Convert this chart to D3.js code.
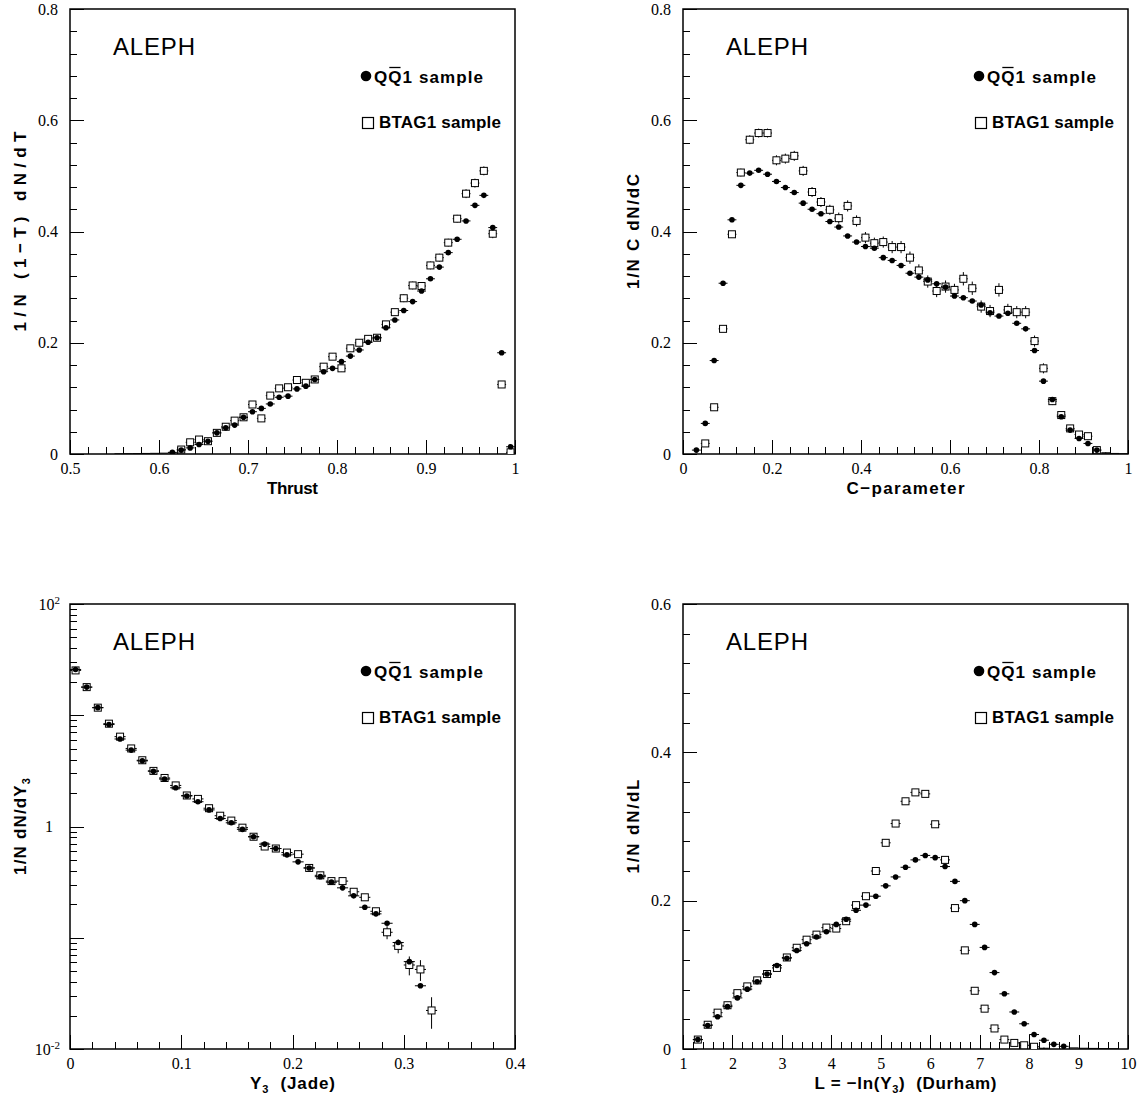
<!DOCTYPE html>
<html>
<head>
<meta charset="utf-8">
<script src="https://cdn.jsdelivr.net/npm/d3@7"></script>
<style>
  body { margin: 0; background: #fff; }
  svg text { fill: #000; }
  .tick line { stroke: #000; stroke-width: 1; shape-rendering: crispEdges; }
  .ttl { font-family: "Liberation Sans", Arial, sans-serif; font-weight: bold; font-size: 17px; }
  .exp { font-family: "Liberation Sans", Arial, sans-serif; font-size: 24px; }
</style>
</head>
<body>
<svg id="chart" width="1140" height="1105"></svg>
<script>
// ---- Thrust ----
const thrustBins = [0.555, 0.565, 0.575, 0.585, 0.595, 0.605, 0.615, 0.625, 0.635, 0.645, 0.655, 0.665, 0.675, 0.685, 0.695,
  0.705, 0.715, 0.725, 0.735, 0.745, 0.755, 0.765, 0.775, 0.785, 0.795, 0.805, 0.815, 0.825, 0.835, 0.845, 0.855,
  0.865, 0.875, 0.885, 0.895, 0.905, 0.915, 0.925, 0.935, 0.945, 0.955, 0.965, 0.975, 0.985, 0.995];
const thrustQQ1 = [0.0003, 0.0005, 0.0007, 0.001, 0.0012, 0.0015, 0.003, 0.007, 0.011, 0.017, 0.023, 0.038, 0.047, 0.052, 0.066,
  0.076, 0.082, 0.090, 0.102, 0.104, 0.117, 0.122, 0.134, 0.148, 0.154, 0.166, 0.176, 0.187, 0.201, 0.209, 0.227,
  0.241, 0.258, 0.274, 0.293, 0.315, 0.336, 0.362, 0.386, 0.419, 0.447, 0.465, 0.407, 0.182, 0.013];
const thrustBTAG = [null, null, null, null, null, null, 0.002, 0.008, 0.021, 0.026, 0.023, 0.038, 0.049, 0.060, 0.066,
  0.089, 0.064, 0.105, 0.118, 0.120, 0.133, 0.128, 0.134, 0.157, 0.175, 0.154, 0.190, 0.200, 0.207, 0.209, 0.233,
  0.255, 0.280, 0.303, 0.302, 0.339, 0.353, 0.380, 0.423, 0.468, 0.487, 0.509, 0.396, 0.125, 0.003];
const thrustBTAGErr = [null, null, null, null, null, null, 0.002, 0.003, 0.003, 0.003, 0.003, 0.004, 0.004, 0.004, 0.004,
  0.005, 0.005, 0.005, 0.005, 0.005, 0.005, 0.005, 0.005, 0.006, 0.006, 0.006, 0.006, 0.006, 0.006, 0.006, 0.006,
  0.006, 0.007, 0.007, 0.007, 0.007, 0.007, 0.007, 0.007, 0.008, 0.008, 0.008, 0.008, 0.005, 0.002];

// ---- C-parameter ----
const cBins = [0.03, 0.05, 0.07, 0.09, 0.11, 0.13, 0.15, 0.17, 0.19, 0.21, 0.23, 0.25, 0.27, 0.29, 0.31, 0.33, 0.35,
  0.37, 0.39, 0.41, 0.43, 0.45, 0.47, 0.49, 0.51, 0.53, 0.55, 0.57, 0.59, 0.61, 0.63, 0.65, 0.67, 0.69, 0.71, 0.73,
  0.75, 0.77, 0.79, 0.81, 0.83, 0.85, 0.87, 0.89, 0.91, 0.93, 0.95, 0.97, 0.99];
const cQQ1 = [0.007, 0.055, 0.168, 0.307, 0.421, 0.483, 0.505, 0.510, 0.503, 0.490,
  0.479, 0.470, 0.451, 0.440, 0.432, 0.418, 0.408, 0.392, 0.381, 0.373,
  0.370, 0.353, 0.348, 0.339, 0.325, 0.318, 0.313, 0.306, 0.300, 0.284,
  0.281, 0.275, 0.268, 0.254, 0.248, 0.253, 0.235, 0.225, 0.186, 0.131,
  0.098, 0.067, 0.043, 0.028, 0.019, 0.007, 0.0015, 0.001, 0.0005];
const cBTAG = [null, 0.019, 0.084, 0.225, 0.395, 0.506, 0.565, 0.577, 0.577, 0.528,
  0.531, 0.536, 0.509, 0.471, 0.453, 0.439, 0.424, 0.446, 0.419, 0.389,
  0.379, 0.381, 0.372, 0.372, 0.353, 0.330, 0.310, 0.293, 0.301, 0.295,
  0.315, 0.298, 0.265, 0.257, 0.295, 0.259, 0.255, 0.255, 0.203, 0.154,
  0.095, 0.070, 0.046, 0.035, 0.032, 0.007, 0.002, null, null];
const cBTAGErr = [null, 0.003, 0.004, 0.005, 0.006, 0.007, 0.008, 0.008, 0.008, 0.009,
  0.009, 0.009, 0.009, 0.009, 0.009, 0.009, 0.010, 0.010, 0.010, 0.010,
  0.010, 0.010, 0.011, 0.011, 0.011, 0.011, 0.011, 0.011, 0.011, 0.011,
  0.012, 0.012, 0.011, 0.011, 0.012, 0.011, 0.011, 0.011, 0.010, 0.009,
  0.007, 0.006, 0.005, 0.004, 0.004, 0.002, 0.001, null, null];

// ---- Y3 (Jade) ----
const y3Bins = [0.005, 0.015, 0.025, 0.035, 0.045, 0.055, 0.065, 0.075, 0.085, 0.095, 0.105, 0.115, 0.125, 0.135,
  0.145, 0.155, 0.165, 0.175, 0.185, 0.195, 0.205, 0.215, 0.225, 0.235, 0.245, 0.255, 0.265, 0.275, 0.285, 0.295,
  0.305, 0.315, 0.325];
const y3QQ1 = [25.8, 17.9, 11.7, 8.25, 6.12, 4.86, 3.89, 3.14, 2.67, 2.23,
  1.88, 1.67, 1.41, 1.18, 1.08, 0.943, 0.809, 0.695, 0.634, 0.556,
  0.481, 0.424, 0.354, 0.316, 0.281, 0.238, 0.188, 0.164, 0.135, 0.0906,
  0.061, 0.037, null];
const y3BTAG = [25.3, 17.9, 11.7, 8.4, 6.42, 5.03, 3.94, 3.16, 2.73, 2.34,
  1.90, 1.77, 1.46, 1.25, 1.13, 0.976, 0.809, 0.661, 0.634, 0.583,
  0.564, 0.424, 0.364, 0.323, 0.323, 0.259, 0.231, 0.173, 0.112, 0.0845,
  0.0569, 0.0519, 0.0222];
const y3BTAGErr = [0.5, 0.35, 0.22, 0.15, 0.12, 0.09, 0.07, 0.06, 0.05, 0.045,
  0.04, 0.035, 0.03, 0.028, 0.026, 0.024, 0.021, 0.018, 0.017, 0.016,
  0.016, 0.013, 0.012, 0.011, 0.011, 0.010, 0.009, 0.008, 0.015, 0.012,
  0.011, 0.011, 0.007];

// ---- L = -ln(Y3) (Durham) ----
const lBins = [1.3, 1.5, 1.7, 1.9, 2.1, 2.3, 2.5, 2.7, 2.9, 3.1, 3.3, 3.5, 3.7, 3.9, 4.1, 4.3, 4.5, 4.7, 4.9, 5.1,
  5.3, 5.5, 5.7, 5.9, 6.1, 6.3, 6.5, 6.7, 6.9, 7.1, 7.3, 7.5, 7.7, 7.9, 8.1, 8.3, 8.5, 8.7, 8.9, 9.1, 9.3, 9.5, 9.7];
const lQQ1 = [0.0127, 0.0317, 0.0435, 0.0571, 0.0689, 0.0807, 0.0907, 0.1011, 0.1125, 0.1224,
  0.1329, 0.142, 0.151, 0.158, 0.168, 0.175, 0.187, 0.194, 0.206, 0.220,
  0.232, 0.245, 0.255, 0.261, 0.258, 0.246, 0.226, 0.200, 0.168, 0.137,
  0.103, 0.0744, 0.0499, 0.034, 0.0195, 0.0118, 0.0063, 0.0036, 0.0015, 0.001,
  0.0008, 0.0005, 0.0003];
const lBTAG = [0.0127, 0.0327, 0.049, 0.059, 0.0753, 0.0844, 0.0925, 0.1011, 0.1093, 0.1234,
  0.1365, 0.1474, 0.1542, 0.1637, 0.1624, 0.1723, 0.194, 0.206, 0.240, 0.278,
  0.304, 0.334, 0.346, 0.344, 0.303, 0.255, 0.190, 0.133, 0.0785, 0.0544,
  0.0277, 0.0127, 0.0082, 0.005, 0.003, 0.001, null, null, null, null,
  null, null, null];
const lBTAGErr = [0.001, 0.002, 0.002, 0.002, 0.002, 0.002, 0.002, 0.002, 0.002, 0.002,
  0.002, 0.002, 0.002, 0.002, 0.002, 0.002, 0.003, 0.003, 0.003, 0.004,
  0.004, 0.004, 0.004, 0.004, 0.004, 0.003, 0.003, 0.003, 0.002, 0.002,
  0.002, 0.001, 0.001, 0.001, 0.001, 0.001, null, null, null, null,
  null, null, null];

const legendLabels = ["QQ1 sample", "BTAG1 sample"];
const W = 445, H = 445;
const svg = d3.select("#chart");
const serif = '"Liberation Serif", "Times New Roman", Times, serif';
const NB = "\u00a0";

// panel layout and axis settings
const panels = [
  { left: 70, top: 9, xDomain: [0.5, 1], yDomain: [0, 0.8], xStep: 0.1, xMinor: 0.02, yStep: 0.2, yMinor: 0.04,
    bins: thrustBins, qq: thrustQQ1, bt: thrustBTAG, btErr: thrustBTAGErr, half: 0.005,
    xTitle: [["Thrust"]], xLen: 51, yTitle: [["1/N (1\u2212T) dN/dT"]], yLen: 200 },
  { left: 683, top: 9, xDomain: [0, 1], yDomain: [0, 0.8], xStep: 0.2, xMinor: 0.04, yStep: 0.2, yMinor: 0.04,
    bins: cBins, qq: cQQ1, bt: cBTAG, btErr: cBTAGErr, half: 0.01,
    xTitle: [["C\u2212parameter"]], xLen: 118, yTitle: [["1/N C dN/dC"]], yLen: 115 },
  { left: 70, top: 604, xDomain: [0, 0.4], yDomain: [0.01, 100], log: true, xStep: 0.1, xMinor: 0.02,
    bins: y3Bins, qq: y3QQ1, bt: y3BTAG, btErr: y3BTAGErr, half: 0.005,
    xTitle: [["Y"], ["3", "sub"], [NB + NB + "(Jade)"]], xLen: 85, yTitle: [["1/N dN/dY"], ["3", "sub"]], yLen: 97 },
  { left: 683, top: 604, xDomain: [1, 10], yDomain: [0, 0.6], xStep: 1, xMinor: 0.2, yStep: 0.2, yMinor: 0.04,
    bins: lBins, qq: lQQ1, bt: lBTAG, btErr: lBTAGErr, half: 0.1,
    xTitle: [["L = \u2212ln(Y"], ["3", "sub"], [")" + NB + NB + "(Durham)"]], xLen: 182, yTitle: [["1/N dN/dL"]], yLen: 94 }
];

function richText(t, segs) {
  let shift = 0;
  segs.forEach(s => {
    const ts = t.append("tspan").text(s[0]);
    if (s[1] === "sub") { ts.attr("font-size", 11).attr("dy", 4); shift = 4; }
    else if (shift) { ts.attr("dy", -shift); shift = 0; }
  });
}

function stepValues(d0, d1, step) {
  const n = Math.round((d1 - d0) / step);
  return d3.range(n + 1).map(i => +(d0 + i * step).toFixed(6));
}

function styleAxis(a) {
  a.select(".domain").remove();
  a.attr("font-family", serif).attr("font-size", 16);
  a.selectAll(".tick text").style("font-family", serif).style("font-size", "16px").attr("fill", "#000");
}

function drawPanel(p) {
  const g = svg.append("g").attr("transform", `translate(${p.left},${p.top})`);
  const x = d3.scaleLinear().domain(p.xDomain).range([0, W]);
  const y = p.log ? d3.scaleLog().domain(p.yDomain).range([H, 0])
                  : d3.scaleLinear().domain(p.yDomain).range([H, 0]);

  // x ticks (inside)
  g.append("g").attr("transform", `translate(0,${H})`)
    .call(d3.axisBottom(x).tickValues(stepValues(p.xDomain[0], p.xDomain[1], p.xMinor)).tickSize(-7))
    .call(a => { a.select(".domain").remove(); a.selectAll("text").remove(); });
  g.append("g").attr("transform", `translate(0,${H})`)
    .call(d3.axisBottom(x).tickValues(stepValues(p.xDomain[0], p.xDomain[1], p.xStep)).tickSize(-14).tickPadding(9).tickFormat(d3.format("~g")))
    .call(styleAxis);

  // y ticks
  if (p.log) {
    const minors = [];
    [0.01, 0.1, 1, 10].forEach(dec => { for (let k = 2; k <= 9; k++) minors.push(dec * k); });
    g.append("g").call(d3.axisLeft(y).tickValues(minors).tickSize(-7))
      .call(a => { a.select(".domain").remove(); a.selectAll("text").remove(); });
    const yAx = g.append("g").call(d3.axisLeft(y).tickValues([0.01, 0.1, 1, 10, 100]).tickSize(-14).tickPadding(10).tickFormat(d => d))
      .call(styleAxis);
    yAx.selectAll(".tick text").each(function(d) {
      const t = d3.select(this);
      t.text(null);
      if (d === 1) { t.text("1").attr("dx", -7); }
      else if (d === 100 || d === 0.01) {
        t.append("tspan").text("10");
        t.append("tspan").attr("dy", "-0.55em").style("font-size", "11px").text(d === 100 ? "2" : "-2");
      } else { t.remove(); }
    });
  } else {
    g.append("g").call(d3.axisLeft(y).tickValues(stepValues(p.yDomain[0], p.yDomain[1], p.yMinor)).tickSize(-7))
      .call(a => { a.select(".domain").remove(); a.selectAll("text").remove(); });
    g.append("g").call(d3.axisLeft(y).tickValues(stepValues(p.yDomain[0], p.yDomain[1], p.yStep)).tickSize(-14).tickPadding(12).tickFormat(d3.format("~g")))
      .call(styleAxis);
  }

  // frame
  g.append("rect").attr("width", W).attr("height", H)
    .attr("fill", "none").attr("stroke", "#000").attr("stroke-width", 1.5);

  // data
  const clipId = "clip" + p.left + "_" + p.top;
  g.append("clipPath").attr("id", clipId).append("rect").attr("width", W).attr("height", H);
  const dg = g.append("g").attr("clip-path", `url(#${clipId})`);
  const minMark = p.log ? 0 : 0.0025;

  const bt = p.bins.map((b, i) => ({ x: b, v: p.bt[i], e: p.btErr[i] })).filter(d => d.v != null);
  const qq = p.bins.map((b, i) => ({ x: b, v: p.qq[i] })).filter(d => d.v != null);

  // BTAG1 : open squares
  dg.selectAll(".bth").data(bt).enter().append("line")
    .attr("x1", d => x(d.x - p.half)).attr("x2", d => x(d.x + p.half))
    .attr("y1", d => y(d.v)).attr("y2", d => y(d.v)).attr("stroke", "#000");
  dg.selectAll(".btv").data(bt.filter(d => d.e != null)).enter().append("line")
    .attr("x1", d => x(d.x)).attr("x2", d => x(d.x))
    .attr("y1", d => y(Math.max(d.v - d.e, p.yDomain[0]))).attr("y2", d => y(d.v + d.e)).attr("stroke", "#000");
  dg.selectAll(".bts").data(bt.filter(d => d.v > minMark)).enter().append("rect")
    .attr("x", d => x(d.x) - 3.5).attr("y", d => y(d.v) - 3.5)
    .attr("width", 7).attr("height", 7)
    .attr("fill", "#fff").attr("stroke", "#000").attr("stroke-width", 1);

  // QQ1 : filled circles
  dg.selectAll(".qqh").data(qq).enter().append("line")
    .attr("x1", d => x(d.x - p.half)).attr("x2", d => x(d.x + p.half))
    .attr("y1", d => y(d.v)).attr("y2", d => y(d.v)).attr("stroke", "#000");
  dg.selectAll(".qqc").data(qq.filter(d => d.v > minMark)).enter().append("circle")
    .attr("cx", d => x(d.x)).attr("cy", d => y(d.v)).attr("r", 2.8).attr("fill", "#000");

  // experiment label
  g.append("text").attr("class", "exp").attr("x", 43).attr("y", 46).attr("textLength", 82).text("ALEPH");

  // legend
  g.append("circle").attr("cx", 296).attr("cy", 67).attr("r", 5.3).attr("fill", "#000");
  const t1 = g.append("text").attr("class", "ttl").attr("x", 304).attr("y", 74).attr("textLength", 109);
  t1.append("tspan").text("Q");
  t1.append("tspan").text("Q");
  t1.append("tspan").text(legendLabels[0].slice(2));
  try {
    const ext = t1.node().getExtentOfChar(1);
    g.append("line").attr("x1", ext.x + 1).attr("x2", ext.x + ext.width - 1)
      .attr("y1", 74 - 15.5).attr("y2", 74 - 15.5).attr("stroke", "#000").attr("stroke-width", 1.3);
  } catch (err) {}
  g.append("rect").attr("x", 292.5).attr("y", 108.5).attr("width", 11).attr("height", 11)
    .attr("fill", "#fff").attr("stroke", "#000").attr("stroke-width", 1.2);
  g.append("text").attr("class", "ttl").attr("x", 309).attr("y", 119).attr("textLength", 122).text(legendLabels[1]);

  // axis titles
  const xt = g.append("text").attr("class", "ttl").attr("x", W / 2).attr("y", H + 40)
    .attr("text-anchor", "middle").attr("textLength", p.xLen);
  richText(xt, p.xTitle);
  const yt = g.append("text").attr("class", "ttl")
    .attr("transform", `translate(-44,${H / 2}) rotate(-90)`)
    .attr("text-anchor", "middle").attr("textLength", p.yLen);
  richText(yt, p.yTitle);
}

panels.forEach(drawPanel);
</script>
</body>
</html>
